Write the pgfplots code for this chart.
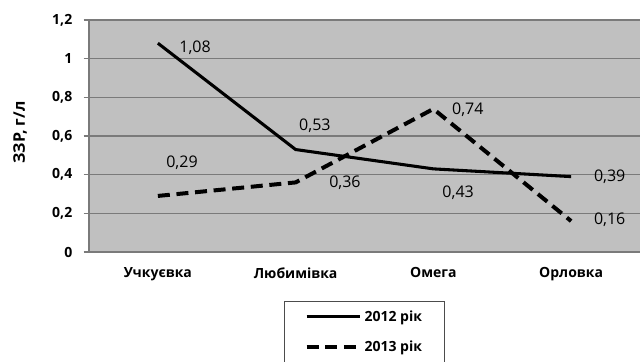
\documentclass[border=0pt]{standalone}
\usepackage{pgfplots}
\pgfplotsset{compat=1.18}
\usepackage{fontspec}
\setmainfont{Open Sans}
\definecolor{bg}{HTML}{C0C0C0}
\definecolor{grd}{HTML}{7A7A7A}
\begin{document}
\begin{tikzpicture}[x=1pt,y=1pt]
\useasboundingbox (-66.75,-81.75) rectangle (414,189);
\begin{axis}[
  at={(0,0)}, anchor=south west,
  scale only axis, width=413.25pt, height=174pt,
  xmin=-0.5, xmax=3.5, ymin=0, ymax=1.2,
  axis background/.style={fill=bg},
  axis line style={draw=grd, line width=0.8pt},
  axis x line*=bottom, axis y line*=left,
  xtick={0,1,2,3},
  xticklabels={Учкуєвка,Любимівка,Омега,Орловка},
  x tick label style={font=\bfseries\fontsize{10.5}{12}\selectfont, yshift=-4pt},
  major x tick style={draw=none},
  extra x ticks={0.5,1.5,2.5},
  extra x tick labels={},
  extra x tick style={major tick length=5pt, tick align=outside, grid=none, tick style={draw=grd, line width=0.8pt}},
  ytick={0,0.2,0.4,0.6,0.8,1,1.2},
  yticklabels={0,{0,2},{0,4},{0,6},{0,8},1,{1,2}},
  y tick label style={font=\bfseries\fontsize{10.5}{12}\selectfont, xshift=-5pt},
  ytick style={draw=grd, line width=0.8pt},
  tick align=outside, major tick length=4pt,
  ymajorgrids, grid style={draw=grd, line width=0.9pt},
  ylabel={ЗЗР, г/л},
  ylabel style={font=\bfseries\fontsize{12}{14}\selectfont, at={(axis description cs:-0.125,0.515)}, anchor=center},
  legend style={at={(0.3545,-0.211)}, anchor=north west, draw=black!70,
    font=\bfseries\fontsize{10.5}{12}\selectfont, row sep=9pt, inner xsep=15pt, inner ysep=5pt,
    legend cell align=left},
  legend image code/.code={\draw[#1] (0pt,0pt) -- (40pt,0pt);},
  clip=false,
]
\addplot[black, line width=2.3pt] coordinates {(0,1.08) (1,0.53) (2,0.43) (3,0.39)};
\addlegendentry{2012 рік}
\addplot[black, line width=3pt, dash pattern=on 9pt off 5pt] coordinates {(0,0.29) (1,0.36) (2,0.74) (3,0.16)};
\addlegendentry{2013 рік}
\begin{scope}[every node/.style={font=\fontsize{12}{14}\selectfont}]
\node at (axis cs:0.27,1.055) {1,08};
\node at (axis cs:1.14,0.652) {0,53};
\node at (axis cs:2.18,0.305) {0,43};
\node at (axis cs:3.28,0.388) {0,39};
\node at (axis cs:0.175,0.46) {0,29};
\node at (axis cs:1.358,0.357) {0,36};
\node at (axis cs:2.25,0.734) {0,74};
\node at (axis cs:3.28,0.166) {0,16};
\end{scope}
\end{axis}
\end{tikzpicture}
\end{document}
